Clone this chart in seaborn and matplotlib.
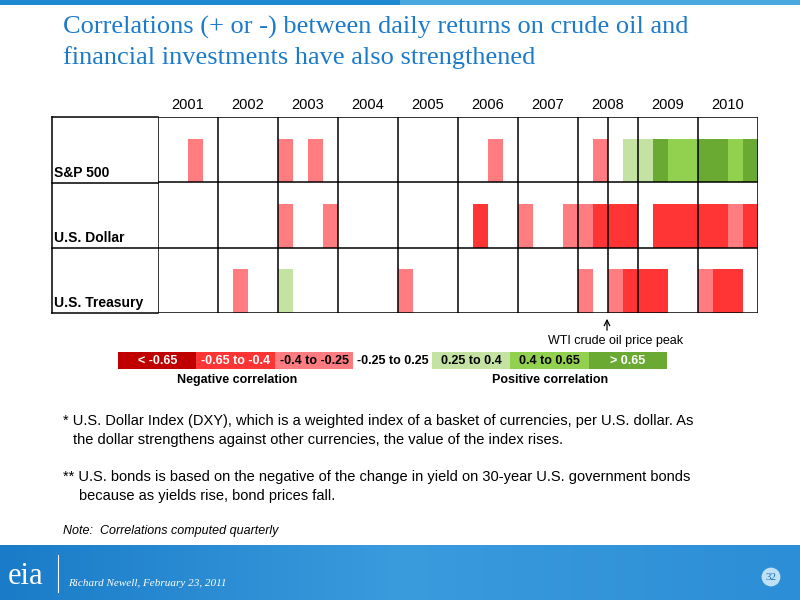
import numpy as np
import matplotlib
matplotlib.use("Agg")
import matplotlib.pyplot as plt
from matplotlib.colors import ListedColormap, BoundaryNorm, LinearSegmentedColormap
from matplotlib.lines import Line2D
import seaborn as sns

years = ["2001","2002","2003","2004","2005","2006","2007","2008","2009","2010"]
series = ["S&P 500", "U.S. Dollar", "U.S. Treasury"]
# quarterly correlation category codes (-3..3), 40 quarters 2001Q1..2010Q4
sp500 = {2:-1, 8:-1, 10:-1, 22:-1, 29:-1, 31:1, 32:1, 33:3, 34:2, 35:2, 36:3, 37:3, 38:2, 39:3}
dollar = {8:-1, 11:-1, 21:-2, 24:-1, 27:-1, 28:-1, 29:-2, 30:-2, 31:-2, 33:-2, 34:-2, 35:-2,
          36:-2, 37:-2, 38:-1, 39:-2}
treasury = {5:-1, 8:1, 16:-1, 28:-1, 30:-1, 31:-2, 32:-2, 33:-2, 36:-1, 37:-2, 38:-2}
legend_labels = ["< -0.65", "-0.65 to -0.4", "-0.4 to -0.25", "-0.25 to 0.25",
                 "0.25 to 0.4", "0.4 to 0.65", "> 0.65"]
legend_codes = [-3, -2, -1, 0, 1, 2, 3]
palette = ["#C00000", "#FF3535", "#FF7C80", "#FFFFFF", "#C4E2A2", "#92D050", "#6AAA32"]

cmap = ListedColormap(palette)
norm = BoundaryNorm(np.arange(-3.5, 4.5, 1), cmap.N)

fig = plt.figure(figsize=(8, 6), dpi=100)
W, H = 800, 600
def fx(x): return x / W
def fy(y): return 1 - y / H

# top stripe & footer band
bar = fig.add_axes([0, fy(5), 1, 5 / H]); bar.axis("off")
bar.imshow([[0, 1]], cmap=ListedColormap(["#1E88D0", "#4AA8E0"]), aspect="auto")
foot = fig.add_axes([0, 0, 1, 55 / H]); foot.axis("off")
grad = np.linspace(0, 1, 200)[None, :]
foot.imshow(grad, cmap=LinearSegmentedColormap.from_list("f", ["#1A7CC8", "#3A9BDD", "#2C8ED6"]), aspect="auto")
fig.text(fx(68), fy(583), "Richard Newell, February 23, 2011", color="white", fontsize=8,
         family="Liberation Serif", style="italic", va="center")
fig.text(fx(8), fy(576), "eia", color="white", fontsize=22, family="Liberation Serif", va="center")
fig.add_artist(Line2D([fx(58), fx(58)], [fy(555), fy(592)], color="white", lw=0.8))
fig.text(fx(771), fy(577), "32", color="#1A6FB0", fontsize=8, family="Liberation Serif", ha="center", va="center",
         bbox=dict(boxstyle="circle,pad=0.35", fc="#BFE0F5", ec="none"))

# title
fig.text(fx(63), fy(27), "Correlations (+ or -) between daily returns on crude oil and",
         color="#1C7ACB", fontsize=19, family="Liberation Serif", va="center")
fig.text(fx(63), fy(58), "financial investments have also strengthened",
         color="#1C7ACB", fontsize=19, family="Liberation Serif", va="center")

# heatmap grid
mat = np.full((9, 40), np.nan)
for r, d in enumerate([sp500, dollar, treasury]):
    for q, v in d.items():
        mat[3 * r + 1, q] = v
        mat[3 * r + 2, q] = v
mask = np.isnan(mat) | (mat == 0)
L, R, T, B = 158, 758, 117, 313
ax = fig.add_axes([fx(L), fy(B), (R - L) / W, (B - T) / H])
sns.heatmap(np.nan_to_num(mat), mask=mask, cmap=cmap, norm=norm, cbar=False, ax=ax,
            xticklabels=False, yticklabels=False)
for y in [0, 3, 6, 9]:
    ax.axhline(y, color="black", lw=1.1)
for i in range(11):
    ax.axvline(4 * i, color="black", lw=1.1)
ax.axvline(30, color="black", lw=1.1)
for i, yr in enumerate(years):
    fig.text(fx(L + 60 * i + 30), fy(105), yr, ha="center", va="center", fontsize=10.5,
             family="Liberation Sans")
for yy in [T, 183, 248, B]:
    fig.add_artist(Line2D([fx(52), fx(L)], [fy(yy), fy(yy)], color="black", lw=1.1))
fig.add_artist(Line2D([fx(52), fx(52)], [fy(T), fy(B)], color="black", lw=1.1))
for s, yb in zip(series, [183, 248, 313]):
    fig.text(fx(54), fy(yb - 10), s, fontsize=10, fontweight="bold", family="Liberation Sans", va="center")

# peak arrow
fig.add_artist(matplotlib.patches.FancyArrowPatch((fx(607), fy(333)), (fx(607), fy(316)),
               arrowstyle="->", mutation_scale=10, color="black", lw=0.9))
fig.text(fx(616), fy(341), "WTI crude oil price peak", ha="center", va="center", fontsize=9,
         family="Liberation Sans")

# legend
lax = fig.add_axes([fx(118), fy(369), (667 - 118) / W, 17 / H])
sns.heatmap(np.array([legend_codes]), cmap=cmap, norm=norm, cbar=False, ax=lax,
            xticklabels=False, yticklabels=False)
for i, (lab, c) in enumerate(zip(legend_labels, legend_codes)):
    col = "white" if c in (-3, -2, 3) else "black"
    lax.text(i + 0.5, 0.5, lab, ha="center", va="center", color=col, fontsize=9,
             fontweight="bold", family="Liberation Sans")
fig.text(fx(237), fy(380), "Negative correlation", ha="center", va="center", fontsize=9,
         fontweight="bold", family="Liberation Sans")
fig.text(fx(550), fy(380), "Positive correlation", ha="center", va="center", fontsize=9,
         fontweight="bold", family="Liberation Sans")

# notes
kw = dict(fontsize=10.5, family="Liberation Sans", va="center")
fig.text(fx(63), fy(421), "* U.S. Dollar Index (DXY), which is a weighted index of a basket of currencies, per U.S. dollar. As", **kw)
fig.text(fx(73), fy(440), "the dollar strengthens against other currencies, the value of the index rises.", **kw)
fig.text(fx(63), fy(477), "** U.S. bonds is based on the negative of the change in yield on 30-year U.S. government bonds", **kw)
fig.text(fx(79), fy(496), "because as yields rise, bond prices fall.", **kw)
fig.text(fx(63), fy(531), "Note:  Correlations computed quarterly", fontsize=9, family="Liberation Sans",
         style="italic", va="center")

fig.savefig("out.png", dpi=100)
